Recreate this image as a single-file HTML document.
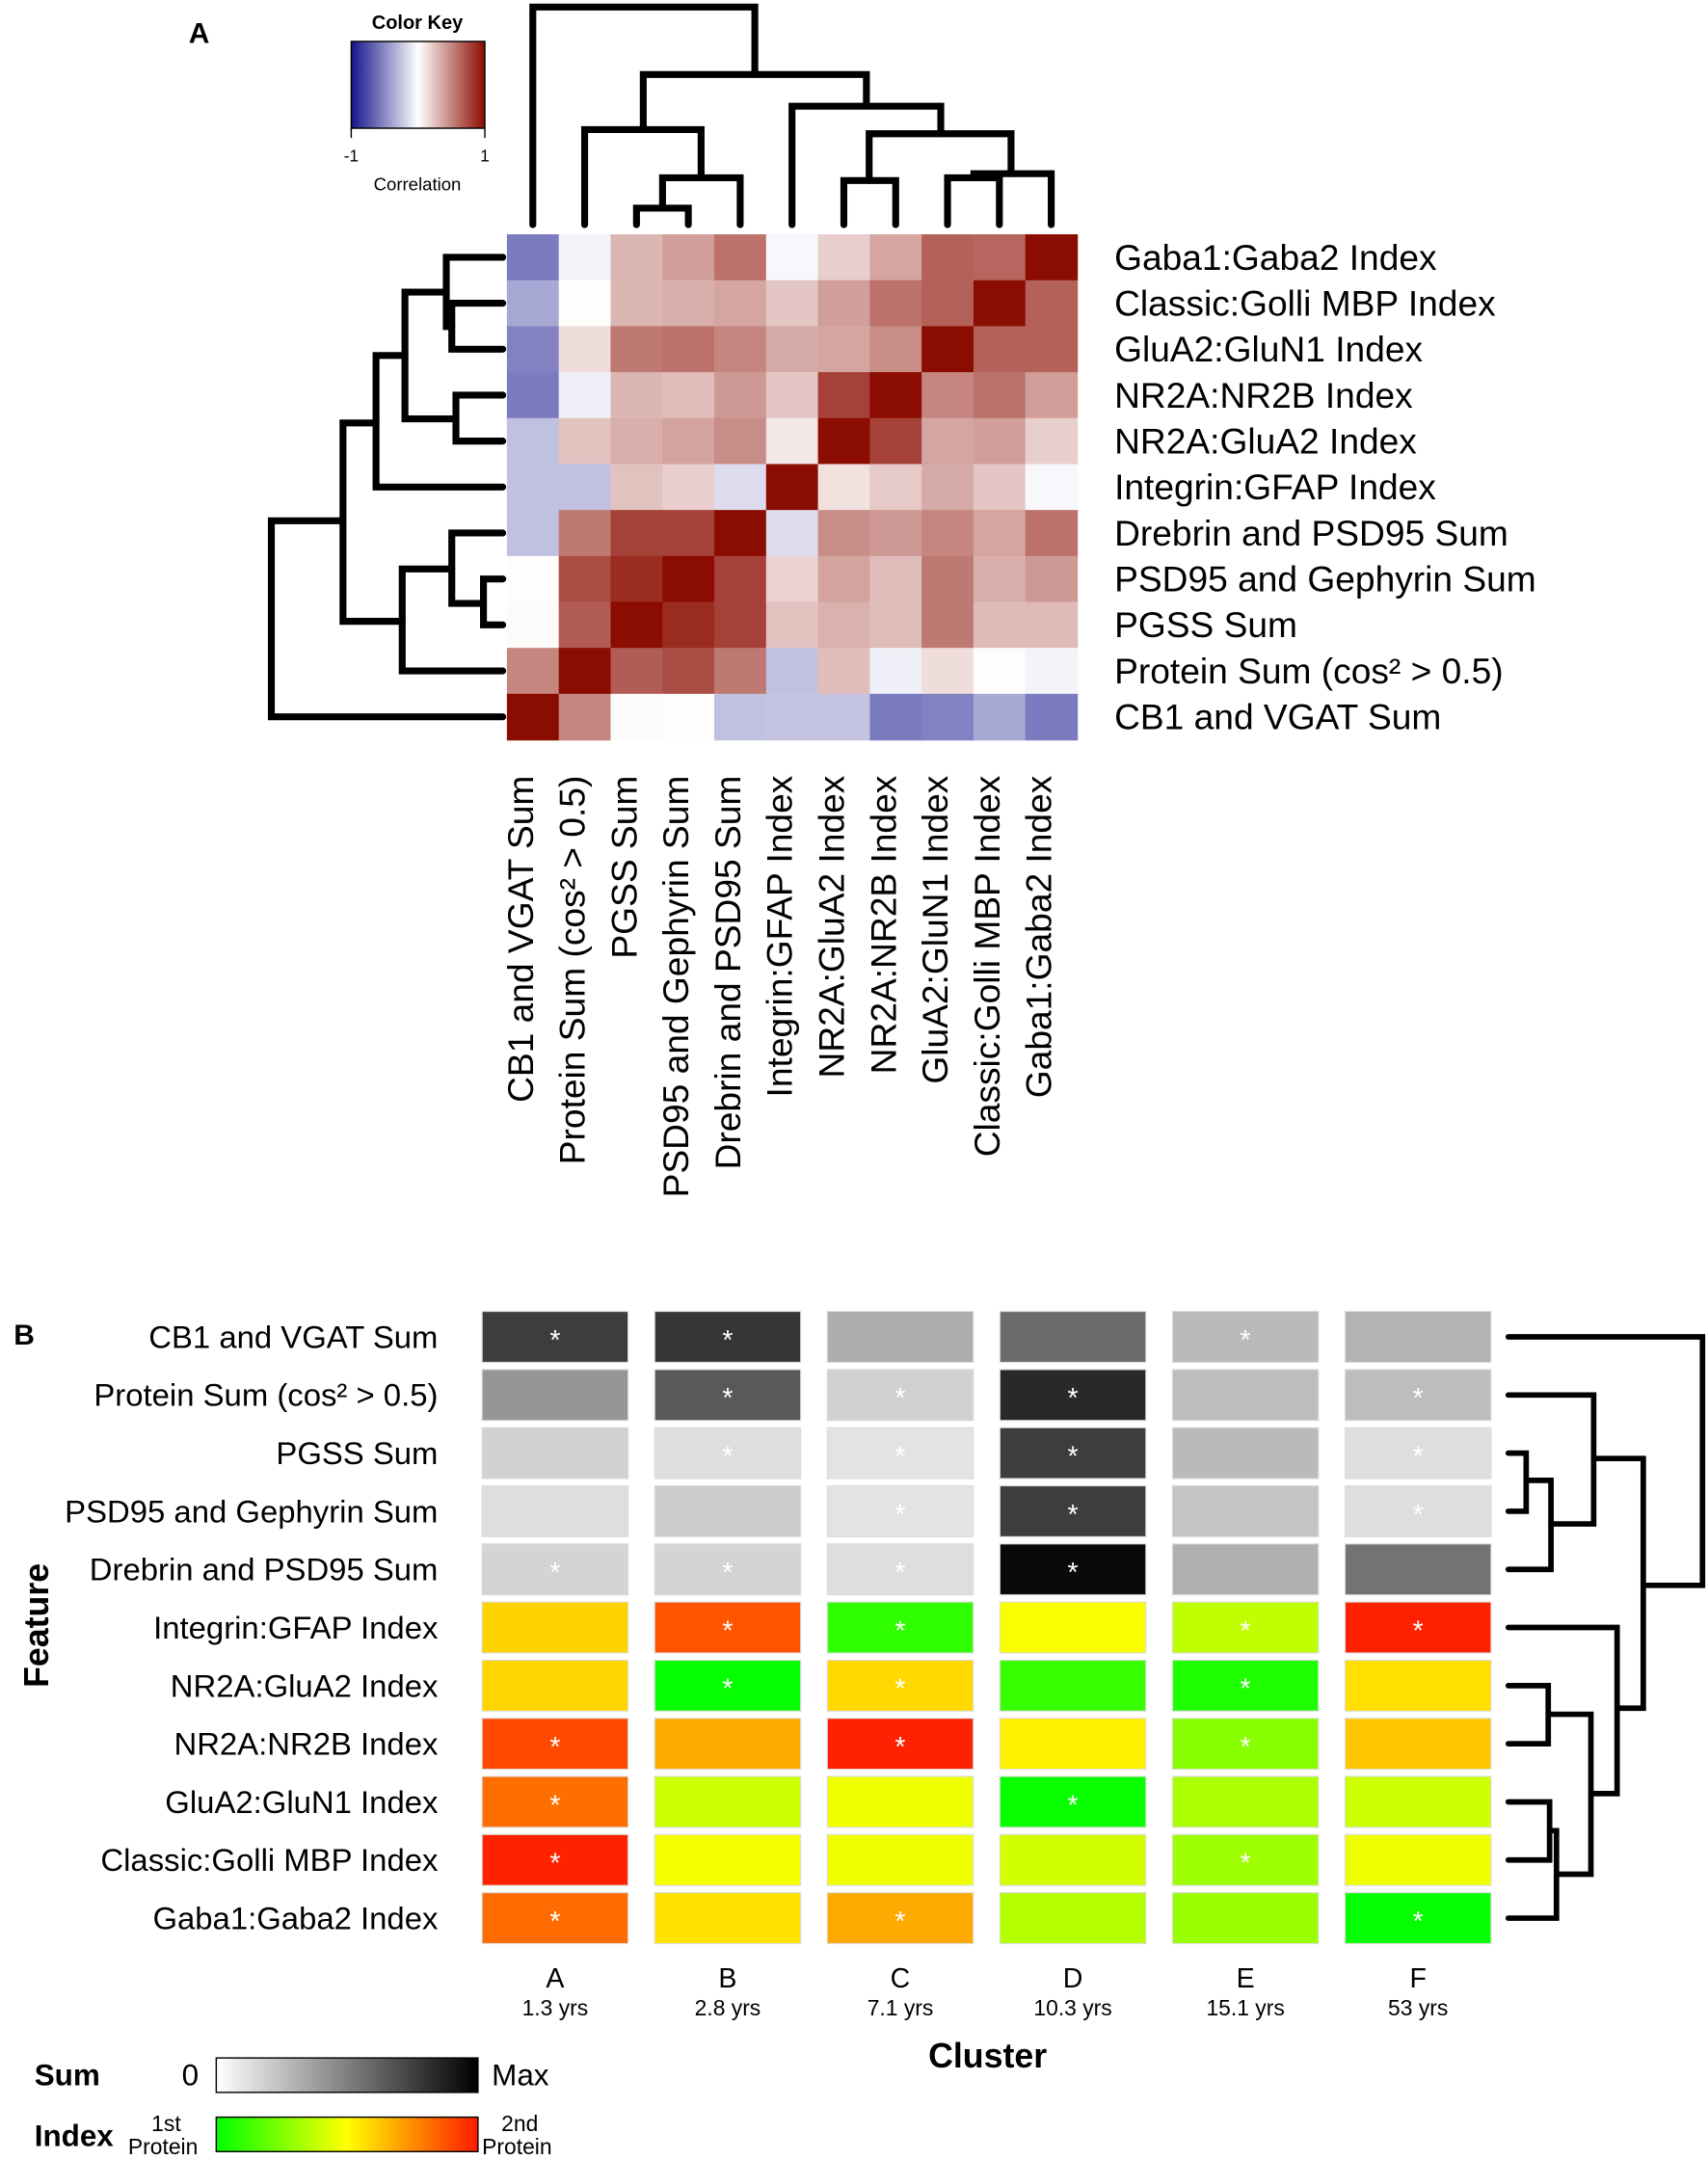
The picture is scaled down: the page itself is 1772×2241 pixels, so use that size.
<!DOCTYPE html>
<html><head><meta charset="utf-8"><style>
html,body{margin:0;padding:0;background:#fff}
svg{display:block;font-family:"Liberation Sans",Arial,sans-serif}
</style></head><body>
<svg id="fig" width="1772" height="2241" viewBox="0 0 1240 1568" xmlns="http://www.w3.org/2000/svg">
<text x="137" y="31" font-size="21" font-weight="bold">A</text>
<text x="10" y="976" font-size="21" font-weight="bold">B</text>
<g id="ck">
<defs>
<linearGradient id="gk" x1="0" x2="1"><stop offset="0" stop-color="#14148c"/><stop offset="0.5" stop-color="#ffffff"/><stop offset="1" stop-color="#8b0c00"/></linearGradient>
<linearGradient id="gs" x1="0" x2="1"><stop offset="0" stop-color="#ffffff"/><stop offset="1" stop-color="#000000"/></linearGradient>
<linearGradient id="gi" x1="0" x2="1"><stop offset="0" stop-color="#00ff00"/><stop offset="0.5" stop-color="#ffff00"/><stop offset="1" stop-color="#ff1a00"/></linearGradient>
</defs>
<text x="303" y="21" font-size="14" font-weight="bold" text-anchor="middle">Color Key</text>
<rect x="255" y="30" width="97" height="63" fill="url(#gk)" stroke="#000" stroke-width="1"/>
<line x1="255" y1="93" x2="255" y2="100" stroke="#000"/><line x1="352" y1="93" x2="352" y2="100" stroke="#000"/>
<text x="255" y="117" font-size="12" text-anchor="middle">-1</text>
<text x="352" y="117" font-size="12" text-anchor="middle">1</text>
<text x="303" y="138" font-size="13" text-anchor="middle">Correlation</text>
</g>
<g id="hmA"></g>
<g id="dendA" fill="none" stroke="#000" stroke-width="5" stroke-linecap="round"></g>
<g id="hmB"></g>
<g id="dendB" fill="none" stroke="#000" stroke-width="4" stroke-linecap="round"></g>
<text transform="translate(35,1180) rotate(-90)" font-size="25" font-weight="bold" text-anchor="middle">Feature</text>
<text x="717" y="1501" font-size="25" font-weight="bold" text-anchor="middle">Cluster</text>
<g>
<text x="25" y="1514" font-size="22" font-weight="bold">Sum</text>
<text x="132" y="1514" font-size="22">0</text>
<rect x="157" y="1494" width="190" height="25" fill="url(#gs)" stroke="#000" stroke-width="1"/>
<text x="357" y="1514" font-size="22">Max</text>
</g>
<g>
<text x="25" y="1558" font-size="22" font-weight="bold">Index</text>
<text x="110" y="1547" font-size="16">1st</text>
<text x="93" y="1564" font-size="16">Protein</text>
<rect x="157" y="1537" width="190" height="25" fill="url(#gi)" stroke="#000" stroke-width="1"/>
<text x="364" y="1547" font-size="16">2nd</text>
<text x="350" y="1564" font-size="16">Protein</text>
</g>
</svg>
<script>
const rowsA = ["Gaba1:Gaba2 Index","Classic:Golli MBP Index","GluA2:GluN1 Index","NR2A:NR2B Index","NR2A:GluA2 Index","Integrin:GFAP Index","Drebrin and PSD95 Sum","PSD95 and Gephyrin Sum","PGSS Sum","Protein Sum (cos\u00b2 > 0.5)","CB1 and VGAT Sum"];
const colsA = ["CB1 and VGAT Sum","Protein Sum (cos\u00b2 > 0.5)","PGSS Sum","PSD95 and Gephyrin Sum","Drebrin and PSD95 Sum","Integrin:GFAP Index","NR2A:GluA2 Index","NR2A:NR2B Index","GluA2:GluN1 Index","Classic:Golli MBP Index","Gaba1:Gaba2 Index"];
const corr0 = [-.56,-.05,.3,.4,.58,-.03,.2,.37,.65,.63,1];
const corr1 = [-.37,.01,.3,.33,.37,.23,.4,.58,.65,1,.65];
const corr2 = [-.53,.14,.55,.58,.5,.35,.37,.47,1,.65,.65];
const corr3 = [-.56,-.07,.3,.27,.42,.23,.78,1,.5,.58,.4];
const corr4 = [-.27,.25,.33,.38,.47,.1,1,.78,.37,.4,.2];
const corr5 = [-.27,-.27,.25,.2,-.15,1,.12,.22,.35,.23,-.03];
const corr6 = [-.27,.55,.78,.78,1,-.15,.47,.42,.5,.37,.58];
const corr7 = [.01,.73,.87,1,.78,.18,.38,.27,.55,.33,.42];
const corr8 = [.02,.67,1,.87,.78,.25,.32,.27,.55,.28,.28];
const corr9 = [.5,1,.67,.73,.55,-.27,.27,-.07,.14,.01,-.05];
const corr10 = [1,.5,.02,.01,-.27,-.25,-.25,-.56,-.53,-.37,-.56];
const corrA = [corr0,corr1,corr2,corr3,corr4,corr5,corr6,corr7,corr8,corr9,corr10];

const features = ["CB1 and VGAT Sum","Protein Sum (cos\u00b2 > 0.5)","PGSS Sum","PSD95 and Gephyrin Sum","Drebrin and PSD95 Sum","Integrin:GFAP Index","NR2A:GluA2 Index","NR2A:NR2B Index","GluA2:GluN1 Index","Classic:Golli MBP Index","Gaba1:Gaba2 Index"];
const clusters = ["A","B","C","D","E","F"];
const ages = ["1.3 yrs","2.8 yrs","7.1 yrs","10.3 yrs","15.1 yrs","53 yrs"];
const isSum = [1,1,1,1,1,0,0,0,0,0,0];
const val0 = [.76,.79,.32,.58,.27,.30];
const val1 = [.41,.65,.18,.84,.26,.26];
const val2 = [.18,.13,.11,.76,.27,.13];
const val3 = [.13,.2,.11,.76,.23,.13];
const val4 = [.17,.17,.13,.96,.31,.55];
const val5 = [.586,.833,.092,.49,.376,.933];
const val6 = [.58,.01,.576,.11,.06,.56];
const val7 = [.857,.667,.933,.53,.267,.61];
const val8 = [.784,.4,.47,.016,.333,.4];
const val9 = [.933,.48,.47,.41,.31,.47];
const val10 = [.79,.557,.667,.35,.3,.01];
const valsB = [val0,val1,val2,val3,val4,val5,val6,val7,val8,val9,val10];
const star0 = [1,1,0,0,1,0];
const star1 = [0,1,1,1,0,1];
const star2 = [0,1,1,1,0,1];
const star3 = [0,0,1,1,0,1];
const star4 = [1,1,1,1,0,0];
const star5 = [0,1,1,0,1,1];
const star6 = [0,1,1,0,1,0];
const star7 = [1,0,1,0,1,0];
const star8 = [1,0,0,1,0,0];
const star9 = [1,0,0,0,1,0];
const star10 = [1,0,1,0,0,1];
const starsB = [star0,star1,star2,star3,star4,star5,star6,star7,star8,star9,star10];

const NS="http://www.w3.org/2000/svg";
function mk(tag,attrs,parent){const e=document.createElementNS(NS,tag);for(const k in attrs)e.setAttribute(k,attrs[k]);parent.appendChild(e);return e;}
function corrColor(v){
  const t=Math.min(1,Math.abs(v));
  if(v>=0){return `rgb(${Math.round(255+(139-255)*t)},${Math.round(255*(1-t)+12*t)},${Math.round(255*(1-t))})`;}
  return `rgb(${Math.round(255*(1-t)+20*t)},${Math.round(255*(1-t)+20*t)},${Math.round(255+(140-255)*t)})`;
}
function idxColor(t){
  if(t<.5) return `rgb(${Math.round(510*t)},255,0)`;
  return `rgb(255,${Math.round(255*(2-2*t))},0)`;
}
const ax0=368, ay0=170, cw=(782-368)/11, ch=(537-170)/11;
const xA=i=>ax0+cw*i, yA=i=>ay0+ch*i;
const hmA=document.getElementById('hmA');
corrA.forEach((row,r)=>row.forEach((v,c)=>{
  const e=mk('rect',{x:xA(c),y:yA(r),width:cw+0.5,height:ch+0.5,fill:corrColor(v)},hmA);
  
  
}));
rowsA.forEach((s,r)=>{
  const t=mk('text',{x:809,y:yA(r)+ch/2+9,'font-size':26},hmA);t.textContent=s;
  
  
});
colsA.forEach((s,c)=>{
  const cx=xA(c)+cw/2;
  const t=mk('text',{transform:`translate(${cx},563) rotate(-90)`,'font-size':26,'text-anchor':'end'},hmA);t.textContent=s;
  
  
});
const dA=document.getElementById('dendA');
const cc=i=>xA(i)+cw/2, rc=i=>yA(i)+ch/2;
const topSegs=[
 [[cc(0),163],[cc(0),5],[548,5],[548,54]],
 [[467,94],[467,54],[629,54],[629,77]],
 [[cc(1),163],[cc(1),94],[509,94],[509,129]],
 [[481,151],[481,129],[cc(4),129],[cc(4),163]],
 [[cc(2),163],[cc(2),151],[cc(3),151],[cc(3),163]],
 [[cc(5),163],[cc(5),77],[683,77],[683,97]],
 [[631,131],[631,97],[734,97],[734,126]],
 [[cc(6),163],[cc(6),131],[cc(7),131],[cc(7),163]],
 [[707,129],[707,126],[cc(10),126],[cc(10),163]],
 [[cc(8),163],[cc(8),129],[cc(9),129],[cc(9),163]]
];
const leftSegs=[
 [[365,rc(1)],[328,rc(1)],[328,rc(2)],[365,rc(2)]],
 [[365,rc(0)],[324,rc(0)],[324,237],[328,237]],
 [[324,212],[294,212],[294,304],[331,304]],
 [[365,rc(3)],[331,rc(3)],[331,rc(4)],[365,rc(4)]],
 [[294,258],[273,258],[273,rc(5)],[365,rc(5)]],
 [[273,307],[249,307],[249,451],[292,451]],
 [[365,rc(7)],[351,rc(7)],[351,rc(8)],[365,rc(8)]],
 [[365,rc(6)],[328,rc(6)],[328,438],[351,438]],
 [[328,413],[292,413],[292,rc(9)],[365,rc(9)]],
 [[249,378],[197,378],[197,rc(10)],[365,rc(10)]]
];
[...topSegs,...leftSegs].forEach(p=>{
  const e=mk('polyline',{points:p.map(q=>q.join(',')).join(' ')},dA);
  
  
});
const bx0=350, pitchX=125.3, bw=106, by0=952, pitchY=42.2, bh=37;
const xB=i=>bx0+pitchX*i, yB=i=>by0+pitchY*i;
const hmB=document.getElementById('hmB');
valsB.forEach((row,r)=>row.forEach((v,c)=>{
  let fill;
  if(isSum[r]){const g=Math.round(255*(1-v));fill=`rgb(${g},${g},${g})`;} else fill=idxColor(v);
  const e=mk('rect',{x:xB(c),y:yB(r),width:bw,height:bh,fill:fill,stroke:'#ddd','stroke-width':0.8},hmB);
  
  
  if(starsB[r][c]){
    const s=mk('text',{x:xB(c)+bw/2,y:yB(r)+bh/2+9,'font-size':20,'text-anchor':'middle',fill:'#fff'},hmB);s.textContent='*';
    
    
  }
}));
features.forEach((s,r)=>{
  const t=mk('text',{x:318,y:yB(r)+bh/2+8,'font-size':23,'text-anchor':'end'},hmB);t.textContent=s;
  
  
});
clusters.forEach((s,c)=>{
  const t=mk('text',{x:xB(c)+bw/2,y:1443,'font-size':20,'text-anchor':'middle'},hmB);t.textContent=s;
  
  
  const a=mk('text',{x:xB(c)+bw/2,y:1463,'font-size':16,'text-anchor':'middle'},hmB);a.textContent=ages[c];
  
  
});
const dB=document.getElementById('dendB');
const rb=i=>yB(i)+bh/2;
const bSegs=[
 [[1095,rb(2)],[1108,rb(2)],[1108,rb(3)],[1095,rb(3)]],
 [[1108,1074.7],[1126,1074.7],[1126,rb(4)],[1095,rb(4)]],
 [[1095,rb(1)],[1157,rb(1)],[1157,1106.3],[1126,1106.3]],
 [[1157,1058.8],[1193,1058.8],[1193,1240.1],[1174,1240.1]],
 [[1095,rb(0)],[1236,rb(0)],[1236,1150.9],[1193,1150.9]],
 [[1095,rb(6)],[1124,rb(6)],[1124,rb(7)],[1095,rb(7)]],
 [[1095,rb(8)],[1125,rb(8)],[1125,rb(9)],[1095,rb(9)]],
 [[1125,1329],[1130,1329],[1130,rb(10)],[1095,rb(10)]],
 [[1124,1244.5],[1155,1244.5],[1155,1360.6],[1130,1360.6]],
 [[1095,rb(5)],[1174,rb(5)],[1174,1302.1],[1155,1302.1]]
];
bSegs.forEach(p=>{
  const e=mk('polyline',{points:p.map(q=>q.join(',')).join(' ')},dB);
  
  
});
</script>
</body></html>
